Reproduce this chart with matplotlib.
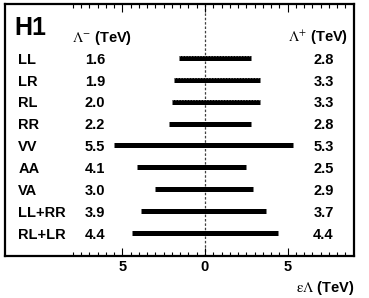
import matplotlib
matplotlib.use('Agg')
import matplotlib.pyplot as plt
import numpy as np

plt.rcParams['font.family'] = ['Liberation Sans', 'DejaVu Sans']
plt.rcParams['mathtext.fontset'] = 'stix'

# contact interaction models and the 95% CL limits (TeV)
models = ['LL', 'LR', 'RL', 'RR', 'VV', 'AA', 'VA', 'LL+RR', 'RL+LR']
lam_minus = [1.6, 1.9, 2.0, 2.2, 5.5, 4.1, 3.0, 3.9, 4.4]
lam_plus = [2.8, 3.3, 3.3, 2.8, 5.3, 2.5, 2.9, 3.7, 4.4]
dashed_rows = ['LL', 'LR', 'RL']

fig = plt.figure(figsize=(3.69, 2.98), dpi=100)
ax = fig.add_axes([0.0136, 0.141, 0.945, 0.846])

fs = 10.5
rows = np.arange(len(models))
ax.axvline(0, color='0.25', lw=0.9, ls=(0, (2, 1.5)), zorder=1)
ax.hlines(rows, [-m for m in lam_minus], lam_plus, color='black', lw=3.6, zorder=2)
for i, name in enumerate(models):
    if name in dashed_rows:
        ax.hlines(i - 0.07, -lam_minus[i], lam_plus[i], color='0.5', lw=0.5,
                  ls=(0, (2, 2)), zorder=3)

for i, name in enumerate(models):
    ax.text(-11.3, i + 0.08, name, fontsize=fs, fontweight='bold', va='center', ha='left')
    ax.text(-7.27, i + 0.08, f'{lam_minus[i]:.1f}', fontsize=fs, fontweight='bold',
            va='center', ha='left')
    ax.text(6.55, i + 0.08, f'{lam_plus[i]:.1f}', fontsize=fs, fontweight='bold',
            va='center', ha='left')

ax.text(-11.55, -1.35, 'H1', fontsize=18, fontweight='bold', va='center', ha='left')
ax.text(-8.06, -0.93, r'$\Lambda^{-}$ (TeV)', fontsize=fs, fontweight='bold',
        va='center', ha='left')
ax.text(5.03, -0.93, r'$\Lambda^{+}$ (TeV)', fontsize=fs, fontweight='bold',
        va='center', ha='left')

ax.set_xlim(-12.1, 9.0)
ax.set_ylim(len(models) - 1 + 1.05, -2.47)
ax.set_yticks([])
ax.set_xticks([-5, 0, 5])
ax.set_xticklabels(['5', '0', '5'], fontsize=fs, fontweight='bold')
ax.set_xticks(np.arange(-8, 8.6, 0.5), minor=True)
ax.tick_params(axis='x', which='both', direction='in', top=True, width=0.8, pad=3)
ax.tick_params(axis='x', which='major', length=6)
ax.tick_params(axis='x', which='minor', length=3)
for s in ax.spines.values():
    s.set_linewidth(1.6)

fig.text(0.962, 0.034, r'$\mathrm{\varepsilon\Lambda}$ (TeV)', fontsize=fs,
         fontweight='bold', ha='right', va='center')

fig.savefig('out.png', dpi=100)
